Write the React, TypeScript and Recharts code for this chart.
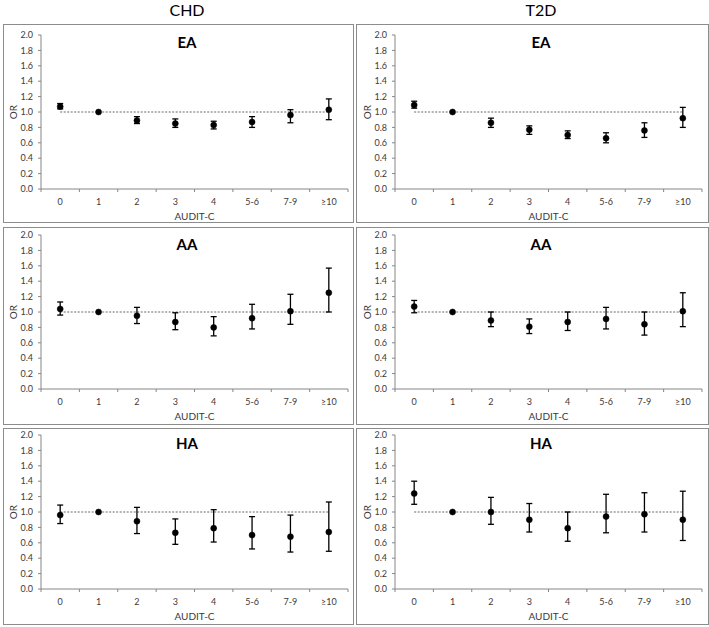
import { LineChart, Line, XAxis, YAxis, ErrorBar, ReferenceLine, Label } from "recharts";

const categories = ["0", "1", "2", "3", "4", "5-6", "7-9", "≥10"];
const yTicks = [0, 0.2, 0.4, 0.6, 0.8, 1.0, 1.2, 1.4, 1.6, 1.8, 2.0];
const refOR = 1;

// CHD (left column)
const chdEaOR = [1.07, 1.0, 0.89, 0.85, 0.83, 0.87, 0.96, 1.03];
const chdEaLo = [1.04, null, 0.85, 0.8, 0.78, 0.8, 0.86, 0.9];
const chdEaHi = [1.11, null, 0.94, 0.91, 0.88, 0.94, 1.03, 1.17];

const chdAaOR = [1.04, 1.0, 0.95, 0.87, 0.8, 0.92, 1.01, 1.25];
const chdAaLo = [0.96, null, 0.85, 0.77, 0.69, 0.78, 0.84, 1.0];
const chdAaHi = [1.13, null, 1.06, 0.99, 0.94, 1.1, 1.23, 1.57];

const chdHaOR = [0.96, 1.0, 0.88, 0.73, 0.79, 0.7, 0.68, 0.74];
const chdHaLo = [0.85, null, 0.72, 0.58, 0.61, 0.52, 0.48, 0.49];
const chdHaHi = [1.09, null, 1.06, 0.91, 1.03, 0.94, 0.96, 1.13];

// T2D (right column)
const t2dEaOR = [1.09, 1.0, 0.86, 0.77, 0.7, 0.66, 0.76, 0.92];
const t2dEaLo = [1.05, null, 0.8, 0.71, 0.655, 0.6, 0.67, 0.8];
const t2dEaHi = [1.14, null, 0.92, 0.82, 0.755, 0.73, 0.86, 1.06];

const t2dAaOR = [1.07, 1.0, 0.89, 0.81, 0.87, 0.91, 0.84, 1.01];
const t2dAaLo = [0.99, null, 0.81, 0.72, 0.76, 0.78, 0.7, 0.81];
const t2dAaHi = [1.15, null, 1.0, 0.91, 1.0, 1.06, 1.0, 1.25];

const t2dHaOR = [1.24, 1.0, 1.0, 0.9, 0.79, 0.94, 0.97, 0.9];
const t2dHaLo = [1.1, null, 0.84, 0.74, 0.62, 0.73, 0.74, 0.63];
const t2dHaHi = [1.4, null, 1.19, 1.11, 1.0, 1.23, 1.25, 1.27];

const columnTitles = ["CHD", "T2D"];

const FONT = "Lato, 'Open Sans', sans-serif";
const AXIS = "#868686";
const TXT = "#3a3a3a";
const CHART_W = 348;
const CHART_H = 196;
const MARGIN = { top: 10, right: 4, bottom: 0, left: 0 };
const Y_W = 37;
const BAND = (CHART_W - MARGIN.left - MARGIN.right - Y_W) / categories.length;

const colX = [3, 356];
const colW = [351, 353];
const chartX = [4, 358];
const titleX = [187, 541];
const rowY = [24, 227, 428];
const rowH = [199, 198, 197];
const chartY = [25, 225, 425];
const titleY = [42, 243.5, 443];

function toRows(or: number[], lo: (number | null)[], hi: (number | null)[]) {
  return categories.map((c, i) => ({
    cat: c,
    or: or[i],
    err: lo[i] == null || hi[i] == null ? null : [or[i] - (lo[i] as number), (hi[i] as number) - or[i]],
  }));
}

function XTick({ x, y, payload, index }: any) {
  const last = index === categories.length - 1;
  return (
    <g>
      <line x1={x - BAND / 2} y1={y} x2={x - BAND / 2} y2={y + 3} stroke={AXIS} />
      {last && <line x1={x + BAND / 2} y1={y} x2={x + BAND / 2} y2={y + 3} stroke={AXIS} />}
      <text x={x} y={y + 12.5} textAnchor="middle" dominantBaseline="central" fontSize={9} fill={TXT} fontFamily={FONT}>
        {payload.value}
      </text>
    </g>
  );
}

function ORLabel({ viewBox }: any) {
  const cx = viewBox.x + 9;
  const cy = viewBox.y + viewBox.height / 2;
  return (
    <text x={cx} y={cy} transform={`rotate(-90 ${cx} ${cy})`} textAnchor="middle" dominantBaseline="central" fontSize={10} fill={TXT} fontFamily={FONT}>
      OR
    </text>
  );
}

function AuditLabel({ viewBox }: any) {
  return (
    <text x={viewBox.x + viewBox.width / 2} y={viewBox.y + 26.5} textAnchor="middle" dominantBaseline="central" fontSize={10} fill={TXT} fontFamily={FONT}>
      AUDIT-C
    </text>
  );
}

function Panel({ title, or, lo, hi, col, row }: any) {
  const data = toRows(or, lo, hi);
  return (
    <>
      <div
        style={{
          position: "absolute",
          left: colX[col],
          top: rowY[row],
          width: colW[col],
          height: rowH[row],
          border: "1px solid #8c8c8c",
          boxSizing: "border-box",
        }}
      />
      <div style={{ position: "absolute", left: chartX[col], top: chartY[row] }}>
        <LineChart width={CHART_W} height={CHART_H} data={data} margin={MARGIN}>
          <XAxis
            dataKey="cat"
            type="category"
            scale="band"
            height={32}
            axisLine={{ stroke: AXIS }}
            tickLine={false}
            tickSize={0}
            tickMargin={0}
            tick={<XTick />}
            interval={0}
          >
            <Label content={<AuditLabel />} />
          </XAxis>
          <YAxis
            type="number"
            domain={[0, 2]}
            ticks={yTicks}
            width={Y_W}
            axisLine={{ stroke: AXIS }}
            tickLine={{ stroke: AXIS }}
            tickSize={3}
            tickMargin={5}
            tickFormatter={(v: number) => v.toFixed(1)}
            tick={{ fontSize: 9, fill: TXT, fontFamily: FONT }}
            allowDataOverflow
          >
            <Label content={<ORLabel />} />
          </YAxis>
          <ReferenceLine
            segment={[
              { x: categories[0], y: refOR },
              { x: categories[categories.length - 1], y: refOR },
            ]}
            stroke="#9a9a9a"
            strokeWidth={1.5}
            strokeDasharray="2 1.5"
          />
          <Line
            dataKey="or"
            stroke="none"
            dot={{ r: 3, fill: "#000", stroke: "#000", strokeWidth: 0.5 }}
            activeDot={false}
            isAnimationActive={false}
          >
            <ErrorBar dataKey="err" direction="y" width={3} stroke="#000" strokeWidth={1.3} />
          </Line>
        </LineChart>
      </div>
      <div
        style={{
          position: "absolute",
          left: titleX[col],
          top: titleY[row],
          transform: "translate(-50%, -50%)",
          fontFamily: FONT,
          fontWeight: 700,
          fontSize: 15,
          color: "#000",
          lineHeight: 1,
        }}
      >
        {title}
      </div>
    </>
  );
}

const panels = [
  { title: "EA", or: chdEaOR, lo: chdEaLo, hi: chdEaHi, col: 0, row: 0 },
  { title: "AA", or: chdAaOR, lo: chdAaLo, hi: chdAaHi, col: 0, row: 1 },
  { title: "HA", or: chdHaOR, lo: chdHaLo, hi: chdHaHi, col: 0, row: 2 },
  { title: "EA", or: t2dEaOR, lo: t2dEaLo, hi: t2dEaHi, col: 1, row: 0 },
  { title: "AA", or: t2dAaOR, lo: t2dAaLo, hi: t2dAaHi, col: 1, row: 1 },
  { title: "HA", or: t2dHaOR, lo: t2dHaLo, hi: t2dHaHi, col: 1, row: 2 },
];

export default function App() {
  return (
    <div style={{ position: "absolute", left: 0, top: 0, width: 709, height: 627, background: "#fff", fontFamily: FONT }}>
      {columnTitles.map((t, i) => (
        <div
          key={t}
          style={{
            position: "absolute",
            left: titleX[i],
            top: 9.5,
            transform: "translate(-50%, -50%)",
            fontSize: 16,
            lineHeight: 1,
            color: "#000",
          }}
        >
          {t}
        </div>
      ))}
      {panels.map((p) => (
        <Panel key={`${p.col}-${p.row}`} {...p} />
      ))}
    </div>
  );
}
